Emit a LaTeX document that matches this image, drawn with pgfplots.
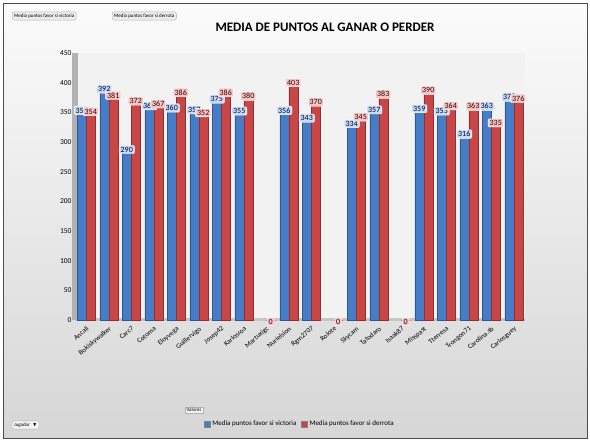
\documentclass[border=0pt]{standalone}
\usepackage{amssymb}
\usepackage{pgfplots}
\pgfplotsset{compat=1.18}
\usepackage{fontspec}
\setmainfont{Carlito}
\definecolor{bblue}{RGB}{70,125,200}
\definecolor{rred}{RGB}{200,70,70}
\definecolor{lblue}{RGB}{200,220,245}
\definecolor{lred}{RGB}{245,200,200}
\begin{document}
\begin{tikzpicture}[x=1pt,y=1pt]
\useasboundingbox (0,0) rectangle (590,443);
\shade[top color=white!97!gray, bottom color=gray!32] (3,5) rectangle (587,440);
\draw[black!70, line width=0.8pt] (3,5) rectangle (587,440);
% pivot buttons
\node[draw=gray!60, fill=gray!15, rounded corners=2pt, font=\fontsize{5}{6}\selectfont, inner sep=2pt, anchor=west] at (12,427) {Media puntos favor si victoria};
\node[draw=gray!60, fill=gray!15, rounded corners=2pt, font=\fontsize{5}{6}\selectfont, inner sep=2pt, anchor=west] at (112,427) {Media puntos favor si derrota};
\node[font=\bfseries\fontsize{13}{15}\selectfont] at (325,416) {MEDIA DE PUNTOS AL GANAR O PERDER};
\begin{axis}[
  at={(75pt,123pt)}, anchor=south west,
  scale only axis, width=450pt, height=267pt,
  ymin=0, ymax=450, ytick={0,50,...,450},
  xmin=-0.5, xmax=19.5,
  xtick={0,...,19},
  xticklabels={Ancali,Bokiskywalker,Carc7,Cotoma,Eloyvega,Guillervigo,Josep42,Karlosroa,Martuxigc,Nurielsion,Rgm2707,Rolote,Skycam,Tatodaro,Isaak87,Misspast,Tterresa,Trongon71,Carolina.sb,Carlosguey},
  x tick label style={rotate=40, anchor=north east, font=\fontsize{7}{8}\selectfont, inner sep=1pt},
  y tick label style={font=\fontsize{7.5}{9}\selectfont},
  /pgf/number format/assume math mode=true,
  axis background/.style={fill=gray!10},
  axis y line*=left, axis x line*=bottom,
  y axis line style={line width=6pt, gray!60, -},
  x axis line style={line width=3pt, gray!45, -},
  tick style={draw=none},
  ybar=0pt, bar width=9pt,
  nodes near coords,
  every node near coord/.append style={font=\fontsize{8}{9}\selectfont, rounded corners=1pt, inner sep=1.5pt, yshift=-6pt},
  legend style={at={(0.5,-0.39)}, anchor=center, draw=none, fill=none, legend columns=2, font=\fontsize{7}{8}\selectfont, /tikz/every even column/.append style={column sep=3pt}},
  legend image code/.code={\draw[#1, draw=gray] (0cm,-0.1cm) rectangle (0.2cm,0.1cm);},
  clip=false,
]
\addplot[fill=bblue, draw=bblue!70!black, every node near coord/.append style={fill=lblue, text=black!80!blue, draw=white}]
 coordinates {(0,356) (1,392) (2,290) (3,364) (4,360) (5,357) (6,375) (7,355) (9,356) (10,343) (12,334) (13,357) (15,359) (16,355) (17,316) (18,363) (19,378)};
\addplot[fill=rred, draw=rred!70!black, every node near coord/.append style={fill=lred, text=black!80!red, draw=white}]
 coordinates {(0,354) (1,381) (2,372) (3,367) (4,386) (5,352) (6,386) (7,380) (8,0) (9,403) (10,370) (11,0) (12,345) (13,383) (14,0) (15,390) (16,364) (17,363) (18,335) (19,376)};
\legend{Media puntos favor si victoria, Media puntos favor si derrota}
\end{axis}
\node[draw=gray!60, fill=white!90!gray, font=\fontsize{5}{6}\selectfont, inner sep=1.5pt] at (194,33) {Valores};
\node[draw=gray!60, fill=gray!10, rounded corners=1pt, font=\fontsize{5}{6}\selectfont, inner sep=2pt, anchor=west] at (12,18) {Jugador \;$\blacktriangledown$};
\end{tikzpicture}
\end{document}
